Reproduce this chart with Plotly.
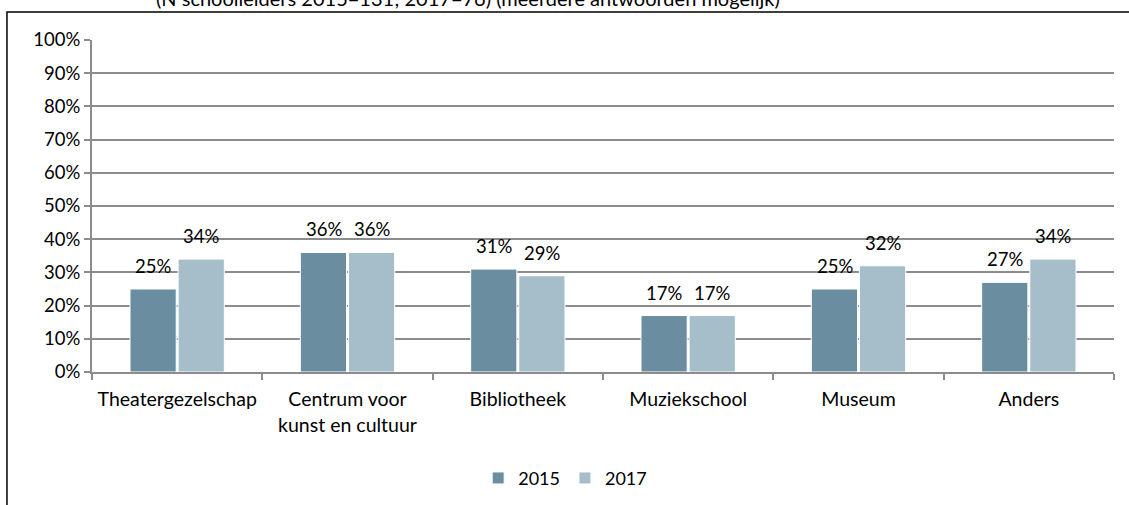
import plotly.graph_objects as go

# -- datos
categorias = ["Theatergezelschap", "Centrum voor<br>kunst en cultuur", "Bibliotheek",
              "Muziekschool", "Museum", "Anders"]
jaren = ["2015", "2017"]
waarden_2015 = [25, 36, 31, 17, 25, 27]
waarden_2017 = [34, 36, 29, 17, 32, 34]
y_ticks = [0, 10, 20, 30, 40, 50, 60, 70, 80, 90, 100]
titel = "(N schoolleiders 2015=131; 2017=76) (meerdere antwoorden mogelijk)"

kleuren = {"2015": "#6b8da0", "2017": "#a6bdca"}
fuente = "Lato, Open Sans, sans-serif"

fig = go.Figure()
for jaar, vals in zip(jaren, [waarden_2015, waarden_2017]):
    fig.add_trace(go.Bar(x=categorias, y=vals, name=jaar,
                         marker=dict(color=kleuren[jaar], line=dict(color="white", width=1))))

# etiquetas de datos sobre cada barra
anot = []
for k, (jaar, vals) in enumerate(zip(jaren, [waarden_2015, waarden_2017])):
    for c, v in zip(categorias, vals):
        anot.append(dict(x=c, y=v, xref="x", yref="y", text=f"{v}%", showarrow=False,
                         xshift=-24 if k == 0 else 24, yshift=10, yanchor="bottom",
                         font=dict(family=fuente, size=18.5, color="black")))

anot.append(dict(x=0.368, y=1.1265, xref="paper", yref="paper", text=titel, showarrow=False,
                 xanchor="center", yanchor="middle", font=dict(family=fuente, size=20, color="black")))

fig.update_layout(
    width=1129, height=505,
    margin=dict(l=92, r=15, t=40, b=133, autoexpand=False),
    paper_bgcolor="white", plot_bgcolor="white",
    barmode="group", bargap=0.435, bargroupgap=0.04,
    font=dict(family=fuente, size=18, color="black"),
    showlegend=True,
    legend=dict(orientation="h", x=0.463, y=-0.32, xanchor="center", yanchor="middle",
                font=dict(size=18), traceorder="normal"),
    annotations=anot,
    shapes=[dict(type="rect", xref="paper", yref="paper", x0=-0.0832, x1=1.3, y0=-0.6, y1=1.0843,
                 line=dict(color="black", width=1.5), fillcolor="rgba(0,0,0,0)")],
)

fig.update_yaxes(range=[0, 100], tickvals=y_ticks, ticktext=[f"{t}%" for t in y_ticks],
                 showgrid=True, gridcolor="#8c8c8c", gridwidth=1.5,
                 showline=True, linecolor="#8c8c8c", linewidth=2,
                 ticks="outside", ticklen=6, tickcolor="#8c8c8c", tickwidth=1.5,
                 tickfont=dict(size=18.5), zeroline=False, automargin=False)
fig.update_xaxes(showline=True, linecolor="#8c8c8c", linewidth=2,
                 ticks="outside", ticklen=6, tickcolor="#8c8c8c", tickwidth=1.5,
                 tickson="boundaries", tickfont=dict(size=19.5), automargin=False,
                 ticklabelstandoff=9)

# quitar el margen del body para que la figura empiece en (0, 0)
fig.write_html("out.html", config={"displayModeBar": False},
               post_script="document.body.style.margin='0';")
